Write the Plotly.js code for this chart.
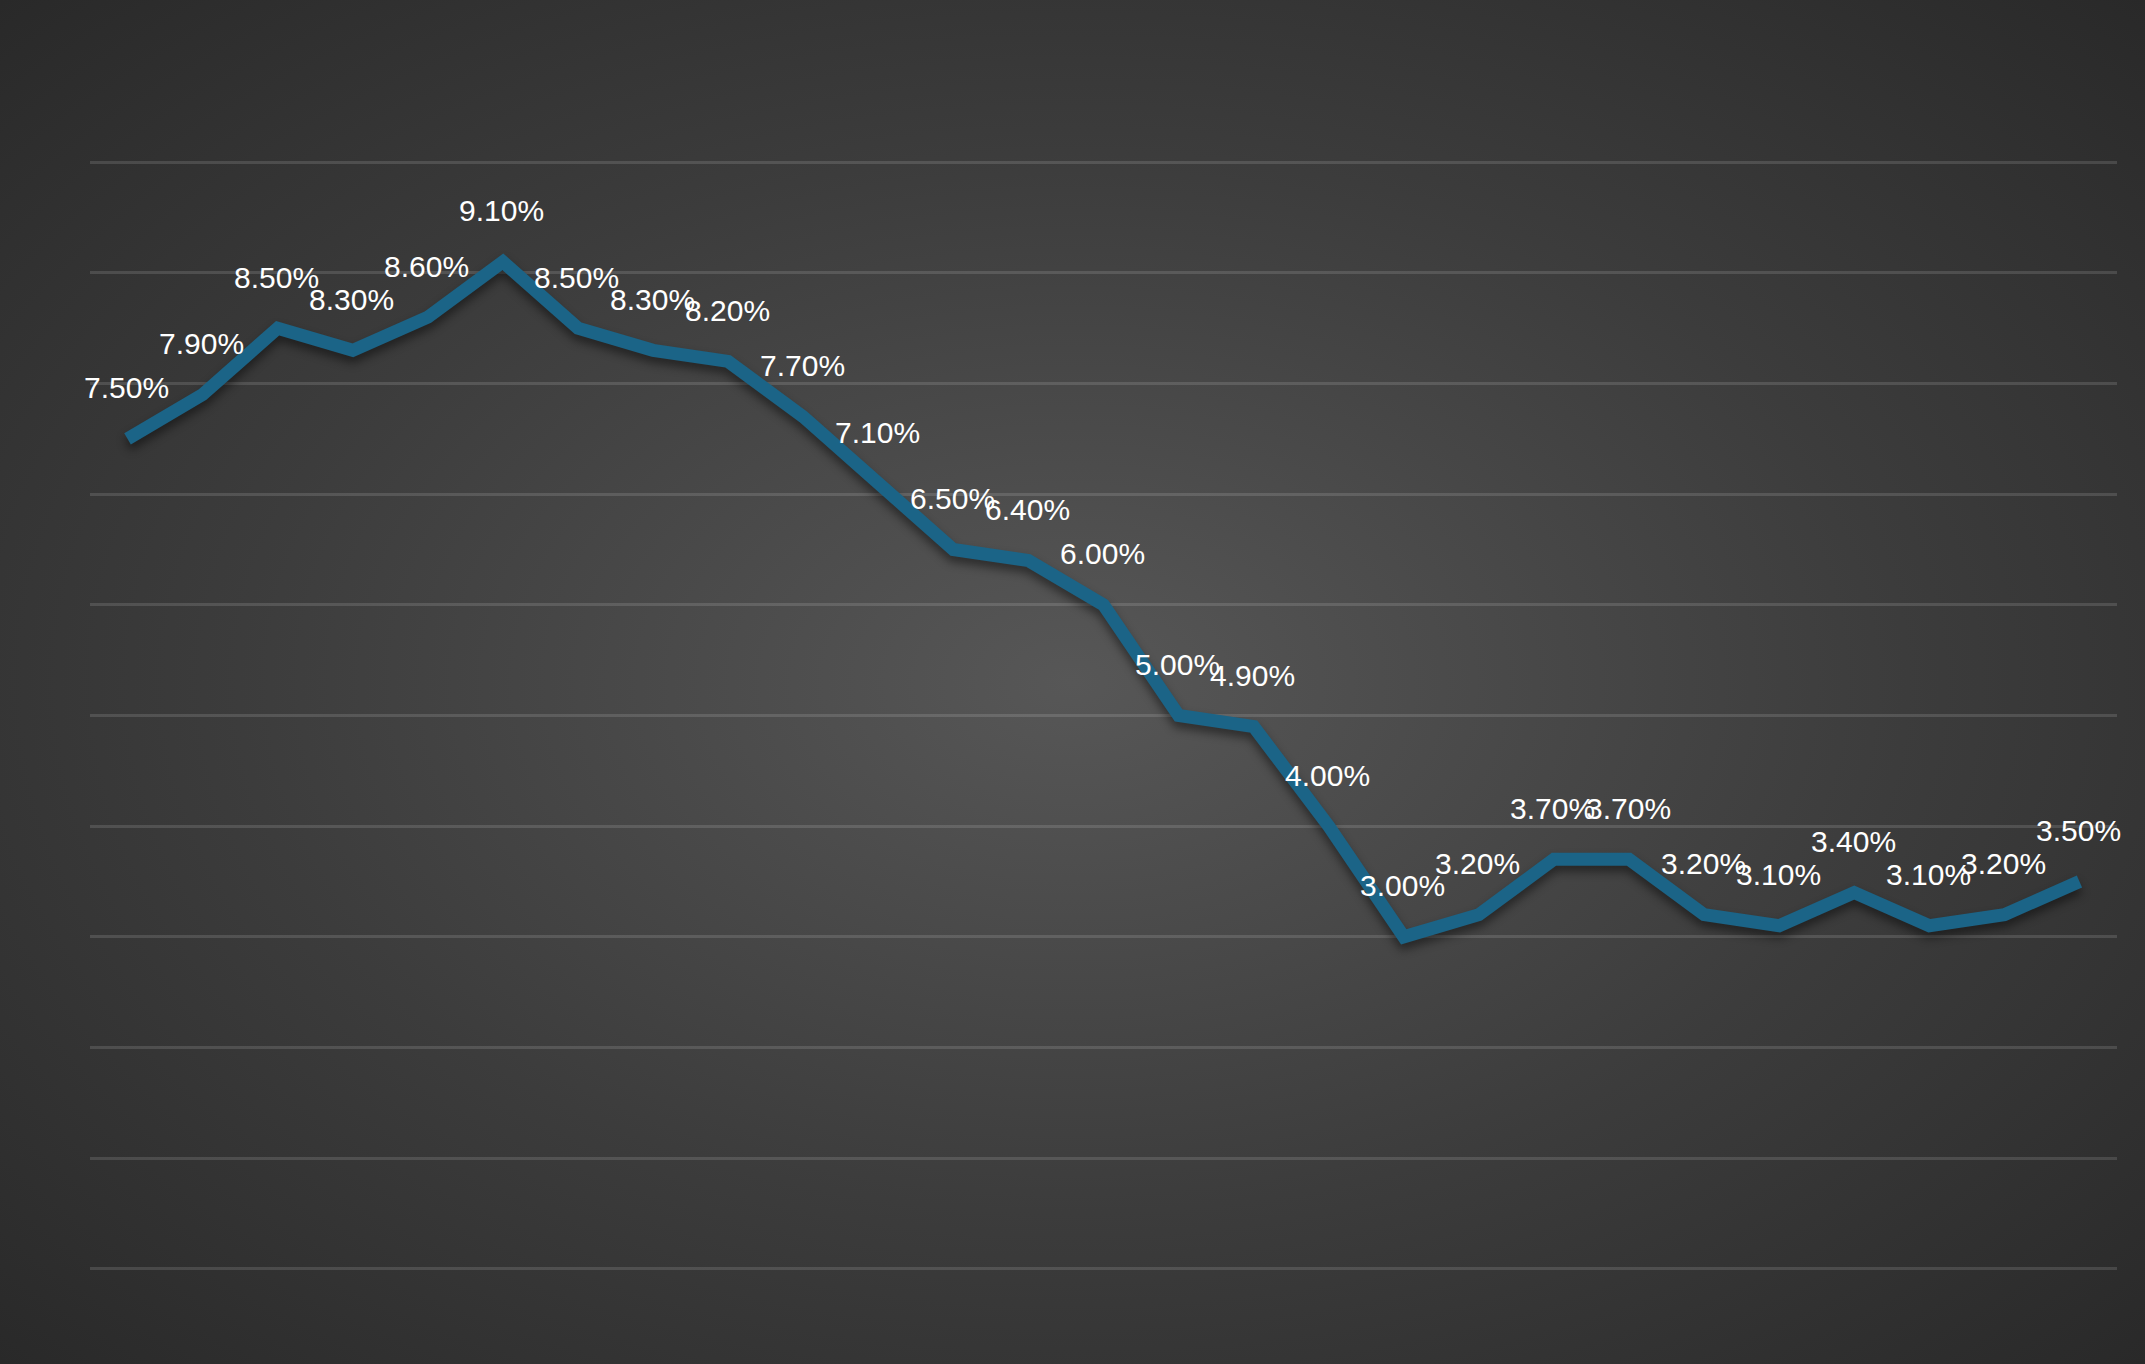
<!DOCTYPE html>
<html>
<head>
<meta charset="utf-8">
<script src="https://cdn.plot.ly/plotly-3.0.1.min.js"></script>
<style>
  html, body { margin: 0; padding: 0; }
  body {
    width: 2145px; height: 1364px; overflow: hidden;
    background: radial-gradient(ellipse at 50% 50%, #575757 0%, #3c3c3c 55%, #292929 100%);
  }
  #grafico { width: 2145px; height: 1364px; }
  /* sombra suave bajo la línea */
  #grafico .scatterlayer path.js-line {
    filter: drop-shadow(0px 6px 5px rgba(0,0,0,0.45));
  }
</style>
</head>
<body>
<div id="grafico"></div>
<script>
// datos
const periodos = [
  "P1", "P2", "P3", "P4", "P5", "P6", "P7", "P8", "P9",
  "P10", "P11", "P12", "P13", "P14", "P15", "P16", "P17", "P18",
  "P19", "P20", "P21", "P22", "P23", "P24", "P25", "P26", "P27"
];
const tasas = [
  7.5, 7.9, 8.5, 8.3, 8.6, 9.1, 8.5, 8.3, 8.2,
  7.7, 7.1, 6.5, 6.4, 6.0, 5.0, 4.9, 4.0, 3.0,
  3.2, 3.7, 3.7, 3.2, 3.1, 3.4, 3.1, 3.2, 3.5
];
const etiquetas = tasas.map(v => v.toFixed(2) + "%");

const colorLinea = "#1b6487";
const colorGrilla = "rgba(255,255,255,0.13)";

const traza = {
  x: periodos,
  y: tasas,
  type: "scatter",
  mode: "lines",
  line: { color: colorLinea, width: 13 },
  hoverinfo: "skip"
};

// etiquetas de datos encima de cada punto
const anotaciones = periodos.map((p, i) => ({
  x: p,
  y: tasas[i],
  xref: "x",
  yref: "y",
  text: etiquetas[i],
  showarrow: false,
  yshift: 51,
  xshift: -1,
  font: { family: "Liberation Sans, Arial, sans-serif", size: 30, color: "#ffffff" }
}));

const layout = {
  width: 2145,
  height: 1364,
  margin: { l: 90, r: 28, t: 160, b: 93 },
  paper_bgcolor: "rgba(0,0,0,0)",
  plot_bgcolor: "rgba(0,0,0,0)",
  showlegend: false,
  xaxis: {
    type: "category",
    range: [-0.5, 26.5],
    showgrid: false,
    showticklabels: false,
    showline: false,
    zeroline: false,
    ticks: ""
  },
  yaxis: {
    range: [-0.02, 10.02],
    dtick: 1,
    showgrid: true,
    gridcolor: colorGrilla,
    gridwidth: 3,
    zeroline: true,
    zerolinecolor: colorGrilla,
    zerolinewidth: 3,
    showticklabels: false,
    showline: false,
    ticks: ""
  },
  annotations: anotaciones
};

Plotly.newPlot("grafico", [traza], layout, { displayModeBar: false, staticPlot: true });
</script>
</body>
</html>
